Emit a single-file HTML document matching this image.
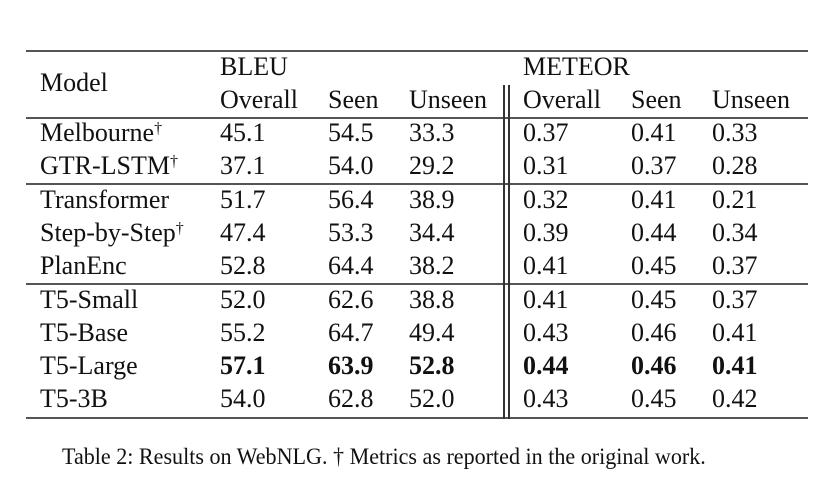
<!DOCTYPE html>
<html><head><style>
body{margin:0;width:832px;height:478px;background:#fff;position:relative;overflow:hidden;font-family:"Liberation Serif",serif;color:#111;}
.t{position:absolute;font-size:26px;line-height:34px;white-space:nowrap;}
.b{font-weight:bold;}
.h{position:absolute;left:26px;width:782px;height:2px;background:#555;}
.v{position:absolute;width:1.5px;background:#333;top:85px;height:334px;}
sup{font-size:16px;vertical-align:top;position:relative;top:-4px;}
.cap{position:absolute;left:62px;top:443px;font-size:23px;line-height:28px;white-space:nowrap;transform:scaleX(0.96);transform-origin:left;}
</style></head><body>
<div class="h" style="top:50px"></div>
<div class="h" style="top:117px"></div>
<div class="h" style="top:183px"></div>
<div class="h" style="top:283px"></div>
<div class="h" style="top:417px"></div>
<div class="v" style="left:503px"></div>
<div class="v" style="left:508px"></div>

<div class="t" style="left:40px;top:66px">Model</div>
<div class="t" style="left:220px;top:50px">BLEU</div>
<div class="t" style="left:523px;top:50px">METEOR</div>

<div id="rows"></div>
<script>
var rows=[
["","Overall","Seen","Unseen","Overall","Seen","Unseen",0],
["Melbourne<sup>†</sup>","45.1","54.5","33.3","0.37","0.41","0.33",0],
["GTR-LSTM<sup>†</sup>","37.1","54.0","29.2","0.31","0.37","0.28",0],
["Transformer","51.7","56.4","38.9","0.32","0.41","0.21",0],
["Step-by-Step<sup>†</sup>","47.4","53.3","34.4","0.39","0.44","0.34",0],
["PlanEnc","52.8","64.4","38.2","0.41","0.45","0.37",0],
["T5-Small","52.0","62.6","38.8","0.41","0.45","0.37",0],
["T5-Base","55.2","64.7","49.4","0.43","0.46","0.41",0],
["T5-Large","57.1","63.9","52.8","0.44","0.46","0.41",1],
["T5-3B","54.0","62.8","52.0","0.43","0.45","0.42",0]];
var xs=[40,220,328,409,523,631,712],cy=[100,133,166,200,233,266,300,333,366,399],h="";
rows.forEach(function(r,i){for(var j=0;j<7;j++){if(!r[j])continue;h+='<div class="t'+(r[7]&&j>0?' b':'')+'" style="left:'+xs[j]+'px;top:'+(cy[i]-17)+'px">'+r[j]+'</div>';}});
document.getElementById('rows').innerHTML=h;
</script>
<div class="cap">Table 2: Results on WebNLG. † Metrics as reported in the original work.</div>
</body></html>
